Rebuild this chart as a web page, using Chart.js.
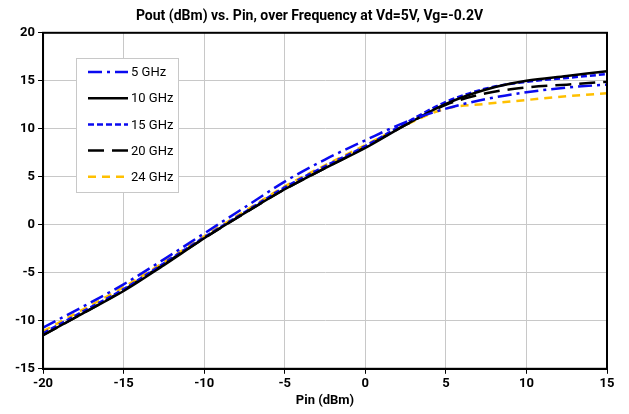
<!DOCTYPE html>
<html>
<head>
<meta charset="utf-8">
<script src="https://cdn.jsdelivr.net/npm/chart.js@4/dist/chart.umd.min.js"></script>
<style>
  html, body { margin:0; padding:0; background:#fff; }
  #wrap { width:629px; height:414px; }
</style>
</head>
<body>
<div id="wrap"><canvas id="c" width="629" height="414"></canvas></div>
<script>
// données
const pin = [-20, -17.5, -15, -12.5, -10, -7.5, -5, -2.5, 0, 2.5, 5, 7.5, 10, 12.5, 15];
const pout5  = [-10.7, -8.5, -6.2, -3.6, -0.9, 1.8, 4.5, 6.8, 8.8, 10.7, 12.1, 13.1, 13.8, 14.3, 14.6];
const pout10 = [-11.5, -9.2, -6.9, -4.2, -1.4, 1.2, 3.7, 5.9, 8.0, 10.4, 12.6, 14.1, 15.0, 15.5, 16.0];
const pout15 = [-11.3, -9.0, -6.7, -4.0, -1.3, 1.3, 3.9, 6.1, 8.2, 10.6, 12.8, 14.2, 14.9, 15.3, 15.7];
const pout20 = [-11.5, -9.2, -6.8, -4.1, -1.4, 1.2, 3.7, 5.9, 8.1, 10.4, 12.5, 13.7, 14.3, 14.6, 14.9];
const pout24 = [-11.1, -8.8, -6.5, -3.9, -1.2, 1.4, 4.0, 6.2, 8.3, 10.4, 12.1, 12.6, 13.0, 13.4, 13.7];
const labels = ['5 GHz', '10 GHz', '15 GHz', '20 GHz', '24 GHz'];
const xTicks = [-20, -15, -10, -5, 0, 5, 10, 15];
const yTicks = [-15, -10, -5, 0, 5, 10, 15, 20];

const styles = [
  { color:'#0a0af0', dash:[14,5,3,5] },
  { color:'#000000', dash:[] },
  { color:'#0a0af0', dash:[6,3] },
  { color:'#000000', dash:[16,8] },
  { color:'#ffc000', dash:[8,6] }
];

const series = [pout5, pout10, pout15, pout20, pout24];
const datasets = series.map((s, i) => ({
  label: labels[i],
  data: s.map((v, k) => ({ x: pin[k], y: v })),
  borderColor: styles[i].color,
  borderDash: styles[i].dash,
  borderWidth: 2.5,
  pointRadius: 0,
  cubicInterpolationMode: 'monotone',
  fill: false
}));

// cadre + légende dans la zone de tracé
const extras = {
  id: 'extras',
  afterDatasetsDraw(chart) {
    const { ctx, chartArea: a } = chart;
    ctx.save();
    ctx.strokeStyle = '#000';
    ctx.lineWidth = 2;
    ctx.strokeRect(a.left, a.top, a.right - a.left, a.bottom - a.top);

    const bx = 76, by = 58, bw = 102, bh = 134;
    ctx.fillStyle = '#fff';
    ctx.fillRect(bx, by, bw, bh);
    ctx.strokeStyle = '#c8c8c8';
    ctx.lineWidth = 1;
    ctx.strokeRect(bx + 0.5, by + 0.5, bw, bh);
    ctx.font = '13px Roboto';
    ctx.textBaseline = 'middle';
    labels.forEach((t, i) => {
      const y = 72 + i * 26.2;
      ctx.beginPath();
      ctx.setLineDash(styles[i].dash);
      ctx.strokeStyle = styles[i].color;
      ctx.lineWidth = 2.5;
      ctx.moveTo(88, y);
      ctx.lineTo(128, y);
      ctx.stroke();
      ctx.setLineDash([]);
      ctx.fillStyle = '#000';
      ctx.fillText(t, 131, y + 1);
    });
    ctx.restore();
  }
};

new Chart(document.getElementById('c').getContext('2d'), {
  type: 'line',
  data: { datasets },
  options: {
    responsive: false,
    animation: false,
    layout: { padding: { left: 12, right: 22, top: 4, bottom: 5 } },
    plugins: {
      legend: { display: false },
      tooltip: { enabled: false },
      title: {
        display: true,
        text: 'Pout (dBm) vs. Pin, over Frequency at Vd=5V, Vg=-0.2V',
        color: '#000',
        font: { family: 'Roboto', size: 14, weight: 'bold' },
        padding: { top: 4, bottom: 8 }
      }
    },
    scales: {
      x: {
        type: 'linear',
        min: -20, max: 15,
        afterBuildTicks: ax => { ax.ticks = xTicks.map(v => ({ value: v })); },
        grid: { color: '#c8c8c8', tickColor: '#000', tickLength: 5 },
        border: { color: '#000', width: 2 },
        ticks: { color: '#000', font: { family: 'Roboto', size: 13, weight: 'bold' }, padding: 2, maxRotation: 0 },
        title: { display: true, text: 'Pin (dBm)', color: '#000', font: { family: 'Roboto', size: 13, weight: 'bold' }, padding: { top: 0, bottom: 0 } }
      },
      y: {
        min: -15, max: 20,
        afterBuildTicks: ax => { ax.ticks = yTicks.map(v => ({ value: v })); },
        grid: { color: '#c8c8c8', tickColor: '#000', tickLength: 5 },
        border: { color: '#000', width: 2 },
        ticks: { color: '#000', font: { family: 'Roboto', size: 13, weight: 'bold' }, padding: 3 }
      }
    }
  },
  plugins: [extras]
});
</script>
</body>
</html>
